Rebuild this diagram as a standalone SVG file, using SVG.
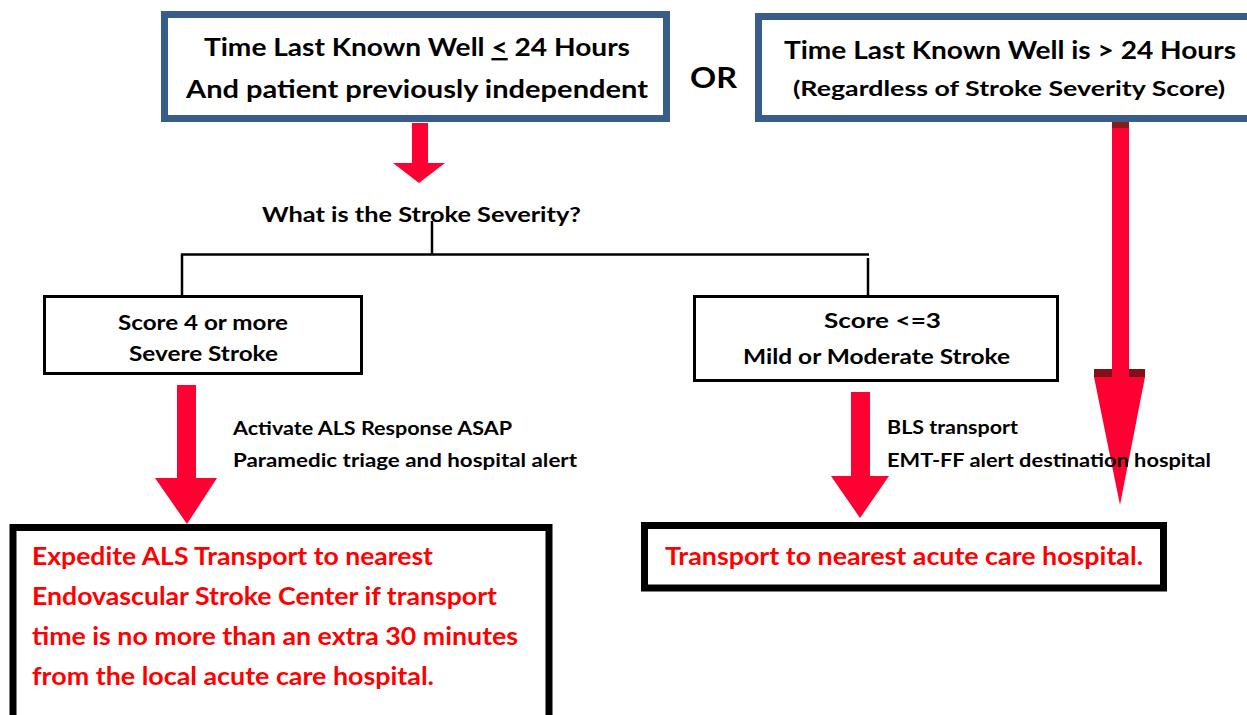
<svg xmlns="http://www.w3.org/2000/svg" width="1247" height="715" viewBox="0 0 1247 715">
<style>
text{font-family:Lato,"Open Sans","Liberation Sans",sans-serif;font-weight:bold;fill:#000}
.blue{fill:#fff;stroke:#385D8A;stroke-width:7}
.thin{fill:#fff;stroke:#000;stroke-width:3}
.thick{fill:#fff;stroke:#000;stroke-width:7}
.red{fill:#FF0000}
.arr{fill:#FF0033}
.ln{stroke:#000;stroke-width:2.5;fill:none}
</style>
<rect width="1247" height="715" fill="#fff"/>
<g id="connectors">
<line class="ln" x1="432" y1="221" x2="432" y2="255"/>
<line class="ln" x1="181" y1="254.5" x2="869" y2="254.5" stroke-width="2"/>
<line class="ln" x1="182" y1="254" x2="182" y2="296"/>
<line class="ln" x1="868" y1="258" x2="868" y2="296"/>
<polygon class="arr" points="412,123 428,123 428,163 445,163 419,183 393,163 412,163"/>
<polygon class="arr" points="177,385 196,385 196,478 217,478 187,524 155,478 177,478"/>
<polygon class="arr" points="851,392 870,392 870,476 889,476 860,518 831,476 851,476"/>
<rect x="1094" y="369" width="51" height="8" fill="#7F1015"/>
<polygon class="arr" points="1112,122 1129,122 1129,377 1145,377 1120,505 1094,377 1112,377"/>
<rect x="1112" y="122" width="17" height="6" fill="#8B1A1A"/>
</g>
<g id="node-tlkw-le24">
<rect class="blue" x="164.5" y="14.5" width="502" height="104"/>
<text x="204" y="56" font-size="24" textLength="426" lengthAdjust="spacingAndGlyphs">Time Last Known Well <tspan text-decoration="underline">&lt;</tspan> 24 Hours</text>
<text x="186" y="98" font-size="24" textLength="462" lengthAdjust="spacingAndGlyphs">And patient previously independent</text>
</g>
<g id="node-or">
<text x="690" y="88" font-size="28" textLength="47" lengthAdjust="spacingAndGlyphs">OR</text>
</g>
<g id="node-tlkw-gt24">
<rect class="blue" x="758.5" y="16.5" width="510" height="102"/>
<text x="784" y="59" font-size="24" textLength="452" lengthAdjust="spacingAndGlyphs">Time Last Known Well is &gt; 24 Hours</text>
<text x="793" y="96" font-size="21" textLength="432" lengthAdjust="spacingAndGlyphs">(Regardless of Stroke Severity Score)</text>
</g>
<g id="node-question">
<text x="262" y="222" font-size="21" textLength="319" lengthAdjust="spacingAndGlyphs">What is the Stroke Severity?</text>
</g>
<g id="node-severe">
<rect class="thin" x="44.5" y="296.5" width="317" height="77"/>
<text x="118" y="330" font-size="20" textLength="170" lengthAdjust="spacingAndGlyphs">Score 4 or more</text>
<text x="129" y="361" font-size="20" textLength="149" lengthAdjust="spacingAndGlyphs">Severe Stroke</text>
</g>
<g id="node-mild">
<rect class="thin" x="694.5" y="296.5" width="363" height="84"/>
<text x="824" y="328" font-size="20" textLength="117" lengthAdjust="spacingAndGlyphs">Score &lt;=3</text>
<text x="743" y="364" font-size="20" textLength="267" lengthAdjust="spacingAndGlyphs">Mild or Moderate Stroke</text>
</g>
<g id="label-als">
<text x="233" y="435" font-size="18" textLength="279" lengthAdjust="spacingAndGlyphs">Activate ALS Response ASAP</text>
<text x="233" y="467" font-size="18" textLength="344" lengthAdjust="spacingAndGlyphs">Paramedic triage and hospital alert</text>
</g>
<g id="label-bls">
<text x="887" y="434" font-size="18" textLength="131" lengthAdjust="spacingAndGlyphs">BLS transport</text>
<text x="887" y="467" font-size="18" textLength="324" lengthAdjust="spacingAndGlyphs">EMT-FF alert destination hospital</text>
</g>
<g id="node-expedite">
<rect class="thick" x="13" y="527.5" width="536" height="210"/>
<text class="red" x="32" y="565" font-size="25" textLength="401" lengthAdjust="spacingAndGlyphs">Expedite ALS Transport to nearest</text>
<text class="red" x="32" y="605" font-size="25" textLength="465" lengthAdjust="spacingAndGlyphs">Endovascular Stroke Center if transport</text>
<text class="red" x="32" y="645" font-size="25" textLength="486" lengthAdjust="spacingAndGlyphs">time is no more than an extra 30 minutes</text>
<text class="red" x="32" y="685" font-size="25" textLength="402" lengthAdjust="spacingAndGlyphs">from the local acute care hospital.</text>
</g>
<g id="node-transport">
<rect class="thick" x="644.5" y="525.5" width="519" height="62.5"/>
<text class="red" x="665" y="565" font-size="25" textLength="478" lengthAdjust="spacingAndGlyphs">Transport to nearest acute care hospital.</text>
</g>
</svg>
